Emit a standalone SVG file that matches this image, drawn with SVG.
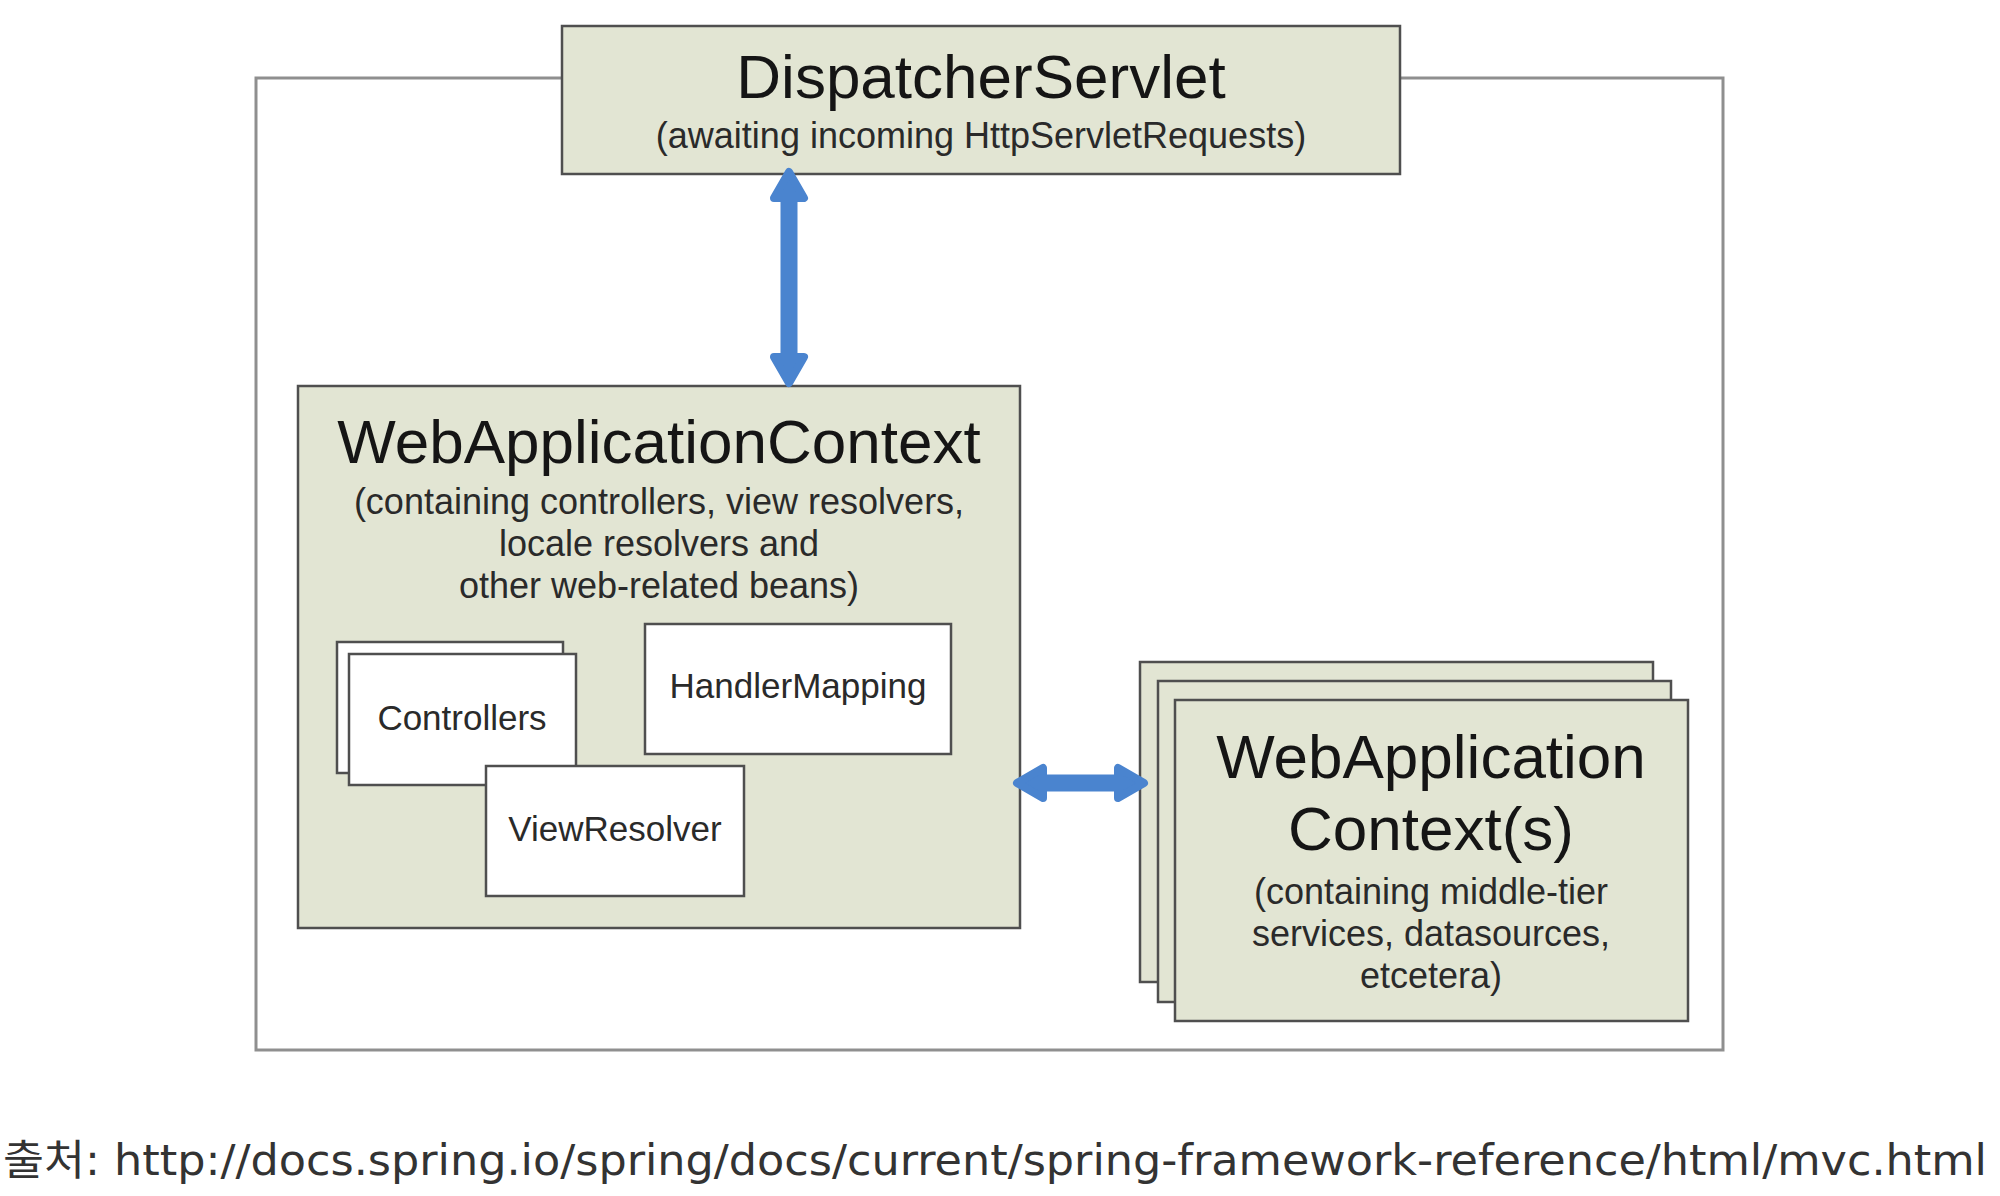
<svg xmlns="http://www.w3.org/2000/svg" width="2000" height="1196" viewBox="0 0 2000 1196">
<style>
.box{fill:#e2e5d3;stroke:#4f4f4f;stroke-width:2.5}
.wbox{fill:#ffffff;stroke:#4f4f4f;stroke-width:2.5}
.outer{fill:#ffffff;stroke:#8f8f8f;stroke-width:3}
.t{font-family:"Liberation Sans",Arial,sans-serif;fill:#151515;text-anchor:middle}
.big{font-size:62px}
.sub{font-size:36px;fill:#2a2a2a}
.lbl{font-size:35px;fill:#2a2a2a}
.shaft{stroke:#4a84cf;stroke-width:17;fill:none}
.head{fill:#4a84cf;stroke:#4a84cf;stroke-width:8;stroke-linejoin:round}
.cap{font-family:"DejaVu Sans","Noto Sans CJK KR",sans-serif;font-size:42px;fill:#333333}
</style>
<rect width="2000" height="1196" fill="#ffffff"/>
<g id="container">
<rect class="outer" x="256" y="78" width="1467" height="972"/>
</g>
<g id="dispatcherServlet">
<rect class="box" x="562" y="26" width="838" height="148"/>
<text class="t big" x="981" y="98">DispatcherServlet</text>
<text class="t sub" x="981" y="148">(awaiting incoming HttpServletRequests)</text>
</g>
<g id="webApplicationContext">
<rect class="box" x="298" y="386" width="722" height="542"/>
<text class="t big" x="659" y="463">WebApplicationContext</text>
<text class="t sub" x="659" y="514">(containing controllers, view resolvers,</text>
<text class="t sub" x="659" y="556">locale resolvers and</text>
<text class="t sub" x="659" y="598">other web-related beans)</text>
</g>
<g id="controllers">
<rect class="wbox" x="337" y="642" width="226" height="131"/>
<rect class="wbox" x="349" y="654" width="227" height="131"/>
<text class="t lbl" x="462" y="730">Controllers</text>
</g>
<g id="handlerMapping">
<rect class="wbox" x="645" y="624" width="306" height="130"/>
<text class="t lbl" x="798" y="698">HandlerMapping</text>
</g>
<g id="viewResolver">
<rect class="wbox" x="486" y="766" width="258" height="130"/>
<text class="t lbl" x="615" y="841">ViewResolver</text>
</g>
<g id="webApplicationContexts">
<rect class="box" x="1140" y="662" width="513" height="320"/>
<rect class="box" x="1158" y="681" width="513" height="321"/>
<rect class="box" x="1175" y="700" width="513" height="321"/>
<text class="t big" x="1431" y="778">WebApplication</text>
<text class="t big" x="1431" y="850">Context(s)</text>
<text class="t sub" x="1431" y="904">(containing middle-tier</text>
<text class="t sub" x="1431" y="946">services, datasources,</text>
<text class="t sub" x="1431" y="988">etcetera)</text>
</g>
<g id="connectors">
<line class="shaft" x1="789" y1="196" x2="789" y2="360"/>
<polygon class="head" points="789,172 804,198 774,198"/>
<polygon class="head" points="789,383 804,357 774,357"/>
<line class="shaft" x1="1040" y1="783" x2="1121" y2="783"/>
<polygon class="head" points="1017,783 1043,768 1043,798"/>
<polygon class="head" points="1144,783 1118,768 1118,798"/>
</g>
<g id="caption">
<text class="cap" x="3" y="1175" textLength="1984" lengthAdjust="spacingAndGlyphs">출처: http://docs.spring.io/spring/docs/current/spring-framework-reference/html/mvc.html</text>
</g>
</svg>
